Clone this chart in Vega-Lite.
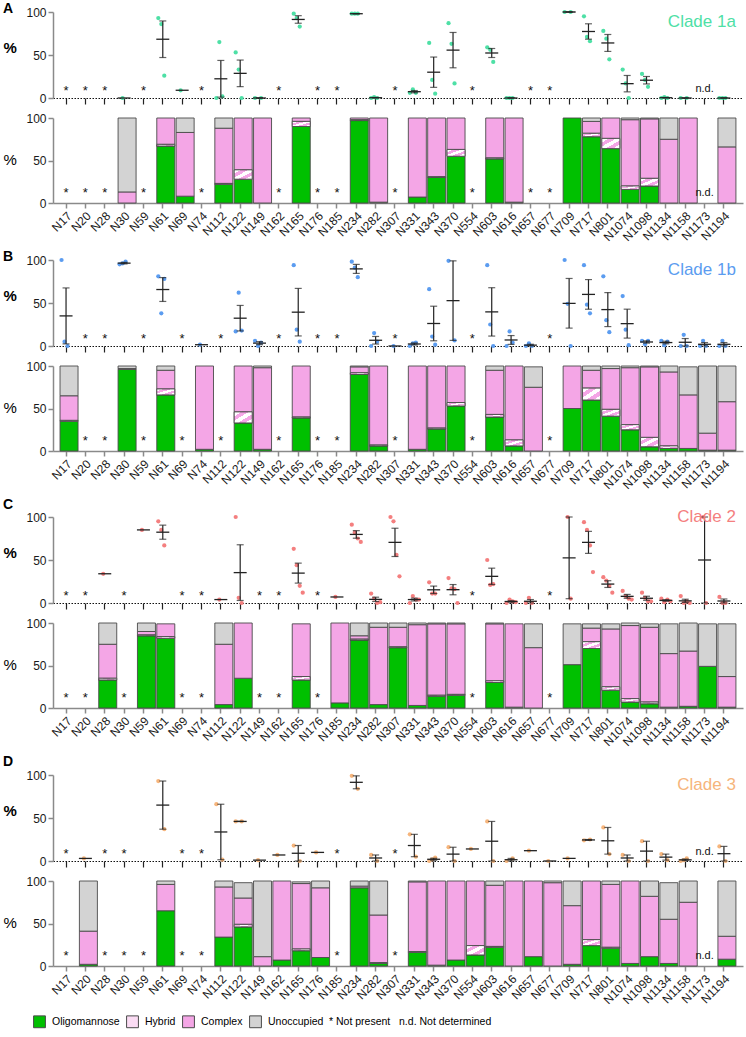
{
"$schema":"https://vega.github.io/schema/vega-lite/v6.json",
"padding":{"left":3,"top":2,"right":2,"bottom":2},
"config":{"view":{"stroke":null},"font":"Liberation Sans","axis":{"grid":false,"labelFontSize":12,"labelColor":"#1a1a1a","labelPadding":2,"domainColor":"#8a8a8a","domainWidth":1.5,"tickColor":"#8a8a8a","tickWidth":1.5,"tickSize":5,"titleColor":"#000"},"title":{"anchor":"start","frame":"group","orient":"top","dx":-50,"offset":0,"baseline":"alphabetic","fontSize":14,"fontWeight":"bold","color":"#000"}},
"datasets":{
"dots":[
{"c":"1a","s":"N30","v":0,"r":2},
{"c":"1a","s":"N61","v":93,"r":1},{"c":"1a","s":"N61","v":86,"r":2},{"c":"1a","s":"N61","v":26,"r":3},
{"c":"1a","s":"N69","v":9,"r":2},
{"c":"1a","s":"N112","v":0,"r":1},{"c":"1a","s":"N112","v":65,"r":2},{"c":"1a","s":"N112","v":2,"r":3},
{"c":"1a","s":"N122","v":53,"r":1},{"c":"1a","s":"N122","v":33,"r":2},{"c":"1a","s":"N122","v":0,"r":3},
{"c":"1a","s":"N149","v":0,"r":1},{"c":"1a","s":"N149","v":0,"r":3},
{"c":"1a","s":"N165","v":98,"r":1},{"c":"1a","s":"N165","v":93,"r":2},{"c":"1a","s":"N165","v":83,"r":3},
{"c":"1a","s":"N234","v":98,"r":1},{"c":"1a","s":"N234","v":98,"r":2},{"c":"1a","s":"N234","v":98,"r":3},
{"c":"1a","s":"N282","v":0,"r":1},{"c":"1a","s":"N282","v":1,"r":2},{"c":"1a","s":"N282","v":0,"r":3},
{"c":"1a","s":"N331","v":6,"r":1},{"c":"1a","s":"N331","v":10,"r":2},{"c":"1a","s":"N331","v":6,"r":3},
{"c":"1a","s":"N343","v":64,"r":1},{"c":"1a","s":"N343","v":21,"r":2},{"c":"1a","s":"N343","v":5,"r":3},
{"c":"1a","s":"N370","v":87,"r":1},{"c":"1a","s":"N370","v":63,"r":2},{"c":"1a","s":"N370","v":17,"r":3},
{"c":"1a","s":"N603","v":59,"r":1},{"c":"1a","s":"N603","v":56,"r":2},{"c":"1a","s":"N603","v":42,"r":3},
{"c":"1a","s":"N616","v":0,"r":1},{"c":"1a","s":"N616","v":0,"r":2},{"c":"1a","s":"N616","v":0,"r":3},
{"c":"1a","s":"N709","v":100,"r":1},{"c":"1a","s":"N709","v":100,"r":3},
{"c":"1a","s":"N717","v":95,"r":1},{"c":"1a","s":"N717","v":71,"r":2},{"c":"1a","s":"N717","v":66,"r":3},
{"c":"1a","s":"N801","v":78,"r":1},{"c":"1a","s":"N801","v":69,"r":2},{"c":"1a","s":"N801","v":45,"r":3},
{"c":"1a","s":"N1074","v":33,"r":1},{"c":"1a","s":"N1074","v":17,"r":2},{"c":"1a","s":"N1074","v":0,"r":3},
{"c":"1a","s":"N1098","v":28,"r":1},{"c":"1a","s":"N1098","v":21,"r":2},{"c":"1a","s":"N1098","v":13,"r":3},
{"c":"1a","s":"N1134","v":0,"r":1},{"c":"1a","s":"N1134","v":1,"r":2},{"c":"1a","s":"N1134","v":0,"r":3},
{"c":"1a","s":"N1158","v":0,"r":1},{"c":"1a","s":"N1158","v":0,"r":3},
{"c":"1a","s":"N1194","v":0,"r":1},{"c":"1a","s":"N1194","v":0,"r":2},{"c":"1a","s":"N1194","v":0,"r":3},
{"c":"1b","s":"N17","v":100,"r":1},{"c":"1b","s":"N17","v":5,"r":2},{"c":"1b","s":"N17","v":0,"r":3},
{"c":"1b","s":"N30","v":95,"r":1},{"c":"1b","s":"N30","v":96,"r":2},{"c":"1b","s":"N30","v":98,"r":3},
{"c":"1b","s":"N61","v":81,"r":1},{"c":"1b","s":"N61","v":38,"r":2},{"c":"1b","s":"N61","v":78,"r":3},
{"c":"1b","s":"N74","v":1.5,"r":2},
{"c":"1b","s":"N122","v":17,"r":1},{"c":"1b","s":"N122","v":62,"r":2},{"c":"1b","s":"N122","v":18,"r":3},
{"c":"1b","s":"N149","v":6,"r":1},{"c":"1b","s":"N149","v":0,"r":2},{"c":"1b","s":"N149","v":4,"r":3},
{"c":"1b","s":"N165","v":94,"r":1},{"c":"1b","s":"N165","v":19,"r":2},{"c":"1b","s":"N165","v":5,"r":3},
{"c":"1b","s":"N234","v":98,"r":1},{"c":"1b","s":"N234","v":91,"r":2},{"c":"1b","s":"N234","v":80,"r":3},
{"c":"1b","s":"N282","v":0,"r":1},{"c":"1b","s":"N282","v":15,"r":2},{"c":"1b","s":"N282","v":5,"r":3},
{"c":"1b","s":"N307","v":0,"r":2},
{"c":"1b","s":"N331","v":0,"r":1},{"c":"1b","s":"N331","v":3,"r":2},{"c":"1b","s":"N331","v":4,"r":3},
{"c":"1b","s":"N343","v":66,"r":1},{"c":"1b","s":"N343","v":11,"r":2},{"c":"1b","s":"N343","v":1.5,"r":3},
{"c":"1b","s":"N370","v":99,"r":1},{"c":"1b","s":"N370","v":6.5,"r":3},
{"c":"1b","s":"N603","v":94,"r":1},{"c":"1b","s":"N603","v":25,"r":2},{"c":"1b","s":"N603","v":0,"r":3},
{"c":"1b","s":"N616","v":0,"r":1},{"c":"1b","s":"N616","v":17,"r":2},{"c":"1b","s":"N616","v":4,"r":3},
{"c":"1b","s":"N657","v":0,"r":1},{"c":"1b","s":"N657","v":3,"r":2},{"c":"1b","s":"N657","v":0,"r":3},
{"c":"1b","s":"N709","v":100,"r":1},{"c":"1b","s":"N709","v":49,"r":2},{"c":"1b","s":"N709","v":0,"r":3},
{"c":"1b","s":"N717","v":94,"r":1},{"c":"1b","s":"N717","v":48,"r":2},{"c":"1b","s":"N717","v":38,"r":3},
{"c":"1b","s":"N801","v":81,"r":1},{"c":"1b","s":"N801","v":30,"r":2},{"c":"1b","s":"N801","v":16,"r":3},
{"c":"1b","s":"N1074","v":58,"r":1},{"c":"1b","s":"N1074","v":19,"r":2},{"c":"1b","s":"N1074","v":1,"r":3},
{"c":"1b","s":"N1098","v":6,"r":1},{"c":"1b","s":"N1098","v":2,"r":2},{"c":"1b","s":"N1098","v":6,"r":3},
{"c":"1b","s":"N1134","v":6,"r":1},{"c":"1b","s":"N1134","v":1,"r":2},{"c":"1b","s":"N1134","v":5,"r":3},
{"c":"1b","s":"N1158","v":0,"r":1},{"c":"1b","s":"N1158","v":13,"r":2},{"c":"1b","s":"N1158","v":0,"r":3},
{"c":"1b","s":"N1173","v":0,"r":1},{"c":"1b","s":"N1173","v":6,"r":2},{"c":"1b","s":"N1173","v":0,"r":3},
{"c":"1b","s":"N1194","v":0,"r":1},{"c":"1b","s":"N1194","v":6,"r":2},{"c":"1b","s":"N1194","v":0,"r":3},
{"c":"2","s":"N28","v":34,"r":2},
{"c":"2","s":"N59","v":85,"r":2},
{"c":"2","s":"N61","v":95,"r":1},{"c":"2","s":"N61","v":85,"r":2},{"c":"2","s":"N61","v":67,"r":3},
{"c":"2","s":"N112","v":4,"r":2},
{"c":"2","s":"N122","v":100,"r":1},{"c":"2","s":"N122","v":6,"r":2},{"c":"2","s":"N122","v":0,"r":3},
{"c":"2","s":"N165","v":63,"r":1},{"c":"2","s":"N165","v":44,"r":2},{"c":"2","s":"N165","v":20,"r":3},{"c":"2","s":"N165","v":12,"r":4},
{"c":"2","s":"N185","v":7,"r":2},
{"c":"2","s":"N234","v":91,"r":1},{"c":"2","s":"N234","v":82,"r":2},{"c":"2","s":"N234","v":75,"r":3},{"c":"2","s":"N234","v":71,"r":4},
{"c":"2","s":"N282","v":11,"r":1},{"c":"2","s":"N282","v":5,"r":2},{"c":"2","s":"N282","v":0,"r":3},{"c":"2","s":"N282","v":1,"r":4},
{"c":"2","s":"N307","v":100,"r":1},{"c":"2","s":"N307","v":95,"r":2},{"c":"2","s":"N307","v":56,"r":3},{"c":"2","s":"N307","v":31,"r":4},
{"c":"2","s":"N331","v":0,"r":1},{"c":"2","s":"N331","v":8,"r":2},{"c":"2","s":"N331","v":4,"r":3},{"c":"2","s":"N331","v":4,"r":4},
{"c":"2","s":"N343","v":24,"r":1},{"c":"2","s":"N343","v":11,"r":2},{"c":"2","s":"N343","v":11,"r":3},
{"c":"2","s":"N370","v":29,"r":1},{"c":"2","s":"N370","v":17,"r":2},{"c":"2","s":"N370","v":16,"r":3},{"c":"2","s":"N370","v":0,"r":4},
{"c":"2","s":"N603","v":50,"r":1},{"c":"2","s":"N603","v":21,"r":2},{"c":"2","s":"N603","v":22,"r":3},
{"c":"2","s":"N616","v":0,"r":1},{"c":"2","s":"N616","v":4,"r":2},{"c":"2","s":"N616","v":2,"r":3},{"c":"2","s":"N616","v":1,"r":4},
{"c":"2","s":"N657","v":0,"r":1},{"c":"2","s":"N657","v":6,"r":2},{"c":"2","s":"N657","v":0,"r":3},
{"c":"2","s":"N709","v":100,"r":2},{"c":"2","s":"N709","v":5,"r":3},
{"c":"2","s":"N717","v":94,"r":1},{"c":"2","s":"N717","v":85,"r":2},{"c":"2","s":"N717","v":67,"r":3},{"c":"2","s":"N717","v":36,"r":4},
{"c":"2","s":"N801","v":30,"r":1},{"c":"2","s":"N801","v":26,"r":2},{"c":"2","s":"N801","v":20,"r":3},{"c":"2","s":"N801","v":12,"r":4},
{"c":"2","s":"N1074","v":14,"r":1},{"c":"2","s":"N1074","v":8,"r":2},{"c":"2","s":"N1074","v":5,"r":3},{"c":"2","s":"N1074","v":4,"r":4},
{"c":"2","s":"N1098","v":12,"r":1},{"c":"2","s":"N1098","v":6,"r":2},{"c":"2","s":"N1098","v":2,"r":3},{"c":"2","s":"N1098","v":2,"r":4},
{"c":"2","s":"N1134","v":5,"r":1},{"c":"2","s":"N1134","v":1,"r":2},{"c":"2","s":"N1134","v":4,"r":3},{"c":"2","s":"N1134","v":2,"r":4},
{"c":"2","s":"N1158","v":8,"r":1},{"c":"2","s":"N1158","v":0,"r":2},{"c":"2","s":"N1158","v":2,"r":3},{"c":"2","s":"N1158","v":0,"r":4},
{"c":"2","s":"N1173","v":100,"r":2},{"c":"2","s":"N1173","v":0,"r":3},
{"c":"2","s":"N1194","v":7,"r":1},{"c":"2","s":"N1194","v":0,"r":2},{"c":"2","s":"N1194","v":0,"r":3},
{"c":"3","s":"N20","v":3,"r":2},
{"c":"3","s":"N61","v":93,"r":1},{"c":"3","s":"N61","v":37,"r":3},
{"c":"3","s":"N112","v":66,"r":1},{"c":"3","s":"N112","v":1.5,"r":3},
{"c":"3","s":"N122","v":46,"r":1},{"c":"3","s":"N122","v":46,"r":3},
{"c":"3","s":"N149","v":1,"r":2},
{"c":"3","s":"N162","v":7,"r":2},
{"c":"3","s":"N165","v":18,"r":1},{"c":"3","s":"N165","v":0,"r":3},
{"c":"3","s":"N176","v":10,"r":2},
{"c":"3","s":"N234","v":99,"r":1},{"c":"3","s":"N234","v":84,"r":3},
{"c":"3","s":"N282","v":7,"r":1},{"c":"3","s":"N282","v":0,"r":3},
{"c":"3","s":"N331","v":31,"r":1},{"c":"3","s":"N331","v":5,"r":3},
{"c":"3","s":"N343","v":0,"r":1},{"c":"3","s":"N343","v":2,"r":2},{"c":"3","s":"N343","v":4,"r":3},
{"c":"3","s":"N370","v":16,"r":1},{"c":"3","s":"N370","v":0,"r":3},
{"c":"3","s":"N554","v":14,"r":2},
{"c":"3","s":"N603","v":46,"r":1},{"c":"3","s":"N603","v":0,"r":3},
{"c":"3","s":"N616","v":0,"r":1},{"c":"3","s":"N616","v":3,"r":3},
{"c":"3","s":"N657","v":12,"r":2},
{"c":"3","s":"N677","v":0,"r":2},
{"c":"3","s":"N709","v":3,"r":2},
{"c":"3","s":"N717","v":24,"r":1},{"c":"3","s":"N717","v":25,"r":3},
{"c":"3","s":"N801","v":39,"r":1},{"c":"3","s":"N801","v":8,"r":3},
{"c":"3","s":"N1074","v":7,"r":1},{"c":"3","s":"N1074","v":0,"r":3},
{"c":"3","s":"N1098","v":23,"r":1},{"c":"3","s":"N1098","v":0,"r":3},
{"c":"3","s":"N1134","v":8,"r":1},{"c":"3","s":"N1134","v":1,"r":3},
{"c":"3","s":"N1158","v":0,"r":1},{"c":"3","s":"N1158","v":1,"r":2},{"c":"3","s":"N1158","v":3,"r":3},
{"c":"3","s":"N1194","v":17,"r":1},{"c":"3","s":"N1194","v":0,"r":3}
],
"bars":[
{"c":"1a","s":"N30","Oligomannose":0,"Hybrid":0,"Complex":13,"Unoccupied":87},
{"c":"1a","s":"N61","Oligomannose":67,"Hybrid":2,"Complex":31,"Unoccupied":0},
{"c":"1a","s":"N69","Oligomannose":8,"Hybrid":0,"Complex":75,"Unoccupied":17},
{"c":"1a","s":"N112","Oligomannose":22,"Hybrid":1,"Complex":65,"Unoccupied":12},
{"c":"1a","s":"N122","Oligomannose":28,"Hybrid":11,"Complex":61,"Unoccupied":0},
{"c":"1a","s":"N149","Oligomannose":0,"Hybrid":0,"Complex":100,"Unoccupied":0},
{"c":"1a","s":"N165","Oligomannose":90,"Hybrid":6,"Complex":4,"Unoccupied":0},
{"c":"1a","s":"N234","Oligomannose":97,"Hybrid":1,"Complex":2,"Unoccupied":0},
{"c":"1a","s":"N282","Oligomannose":1,"Hybrid":0,"Complex":99,"Unoccupied":0},
{"c":"1a","s":"N331","Oligomannose":7,"Hybrid":0,"Complex":93,"Unoccupied":0},
{"c":"1a","s":"N343","Oligomannose":30,"Hybrid":1,"Complex":69,"Unoccupied":0},
{"c":"1a","s":"N370","Oligomannose":55,"Hybrid":8,"Complex":37,"Unoccupied":0},
{"c":"1a","s":"N603","Oligomannose":52,"Hybrid":1,"Complex":47,"Unoccupied":0},
{"c":"1a","s":"N616","Oligomannose":1,"Hybrid":0,"Complex":99,"Unoccupied":0},
{"c":"1a","s":"N709","Oligomannose":100,"Hybrid":0,"Complex":0,"Unoccupied":0},
{"c":"1a","s":"N717","Oligomannose":78,"Hybrid":4,"Complex":14,"Unoccupied":4},
{"c":"1a","s":"N801","Oligomannose":64,"Hybrid":12,"Complex":24,"Unoccupied":0},
{"c":"1a","s":"N1074","Oligomannose":16,"Hybrid":4,"Complex":78,"Unoccupied":2},
{"c":"1a","s":"N1098","Oligomannose":20,"Hybrid":9,"Complex":70,"Unoccupied":1},
{"c":"1a","s":"N1134","Oligomannose":0,"Hybrid":0,"Complex":75,"Unoccupied":25},
{"c":"1a","s":"N1158","Oligomannose":0,"Hybrid":0,"Complex":100,"Unoccupied":0},
{"c":"1a","s":"N1194","Oligomannose":0,"Hybrid":0,"Complex":66,"Unoccupied":34},
{"c":"1b","s":"N17","Oligomannose":35,"Hybrid":1,"Complex":29,"Unoccupied":35},
{"c":"1b","s":"N30","Oligomannose":96,"Hybrid":0,"Complex":1,"Unoccupied":3},
{"c":"1b","s":"N61","Oligomannose":66,"Hybrid":7,"Complex":22,"Unoccupied":5},
{"c":"1b","s":"N74","Oligomannose":2,"Hybrid":0,"Complex":98,"Unoccupied":0},
{"c":"1b","s":"N122","Oligomannose":33,"Hybrid":13,"Complex":54,"Unoccupied":0},
{"c":"1b","s":"N149","Oligomannose":2,"Hybrid":0,"Complex":96,"Unoccupied":2},
{"c":"1b","s":"N165","Oligomannose":39,"Hybrid":1,"Complex":60,"Unoccupied":0},
{"c":"1b","s":"N234","Oligomannose":90,"Hybrid":2,"Complex":7,"Unoccupied":1},
{"c":"1b","s":"N282","Oligomannose":6,"Hybrid":1,"Complex":93,"Unoccupied":0},
{"c":"1b","s":"N331","Oligomannose":2,"Hybrid":0,"Complex":98,"Unoccupied":0},
{"c":"1b","s":"N343","Oligomannose":26,"Hybrid":1,"Complex":73,"Unoccupied":0},
{"c":"1b","s":"N370","Oligomannose":53,"Hybrid":4,"Complex":43,"Unoccupied":0},
{"c":"1b","s":"N603","Oligomannose":40,"Hybrid":3,"Complex":52,"Unoccupied":5},
{"c":"1b","s":"N616","Oligomannose":6,"Hybrid":7,"Complex":87,"Unoccupied":0},
{"c":"1b","s":"N657","Oligomannose":0,"Hybrid":0,"Complex":75,"Unoccupied":24},
{"c":"1b","s":"N709","Oligomannose":50,"Hybrid":0,"Complex":50,"Unoccupied":0},
{"c":"1b","s":"N717","Oligomannose":60,"Hybrid":14,"Complex":21,"Unoccupied":5},
{"c":"1b","s":"N801","Oligomannose":41,"Hybrid":8,"Complex":48,"Unoccupied":3},
{"c":"1b","s":"N1074","Oligomannose":25,"Hybrid":6,"Complex":67,"Unoccupied":2},
{"c":"1b","s":"N1098","Oligomannose":5,"Hybrid":11,"Complex":83,"Unoccupied":1},
{"c":"1b","s":"N1134","Oligomannose":3,"Hybrid":3,"Complex":87,"Unoccupied":7},
{"c":"1b","s":"N1158","Oligomannose":3,"Hybrid":0,"Complex":63,"Unoccupied":33},
{"c":"1b","s":"N1173","Oligomannose":1,"Hybrid":0,"Complex":20,"Unoccupied":79},
{"c":"1b","s":"N1194","Oligomannose":1,"Hybrid":0,"Complex":57,"Unoccupied":42},
{"c":"2","s":"N28","Oligomannose":33,"Hybrid":2,"Complex":40,"Unoccupied":25},
{"c":"2","s":"N59","Oligomannose":85,"Hybrid":1,"Complex":4,"Unoccupied":10},
{"c":"2","s":"N61","Oligomannose":82,"Hybrid":2,"Complex":15,"Unoccupied":0},
{"c":"2","s":"N112","Oligomannose":4,"Hybrid":0,"Complex":71,"Unoccupied":25},
{"c":"2","s":"N122","Oligomannose":35,"Hybrid":0,"Complex":65,"Unoccupied":0},
{"c":"2","s":"N165","Oligomannose":33,"Hybrid":4,"Complex":62,"Unoccupied":0},
{"c":"2","s":"N185","Oligomannose":6,"Hybrid":0,"Complex":94,"Unoccupied":0},
{"c":"2","s":"N234","Oligomannose":80,"Hybrid":1,"Complex":4,"Unoccupied":15},
{"c":"2","s":"N282","Oligomannose":4,"Hybrid":0,"Complex":91,"Unoccupied":5},
{"c":"2","s":"N307","Oligomannose":71,"Hybrid":1,"Complex":23,"Unoccupied":5},
{"c":"2","s":"N331","Oligomannose":3,"Hybrid":0,"Complex":95,"Unoccupied":2},
{"c":"2","s":"N343","Oligomannose":14,"Hybrid":1,"Complex":84,"Unoccupied":1},
{"c":"2","s":"N370","Oligomannose":15,"Hybrid":1,"Complex":83,"Unoccupied":1},
{"c":"2","s":"N603","Oligomannose":30,"Hybrid":2,"Complex":67,"Unoccupied":1},
{"c":"2","s":"N616","Oligomannose":1,"Hybrid":0,"Complex":98,"Unoccupied":0},
{"c":"2","s":"N657","Oligomannose":0,"Hybrid":0,"Complex":71,"Unoccupied":28},
{"c":"2","s":"N709","Oligomannose":51,"Hybrid":0,"Complex":0,"Unoccupied":48},
{"c":"2","s":"N717","Oligomannose":70,"Hybrid":8,"Complex":16,"Unoccupied":5},
{"c":"2","s":"N801","Oligomannose":21,"Hybrid":4,"Complex":68,"Unoccupied":6},
{"c":"2","s":"N1074","Oligomannose":7,"Hybrid":4,"Complex":86,"Unoccupied":3},
{"c":"2","s":"N1098","Oligomannose":5,"Hybrid":2,"Complex":88,"Unoccupied":4},
{"c":"2","s":"N1134","Oligomannose":1,"Hybrid":0,"Complex":63,"Unoccupied":35},
{"c":"2","s":"N1158","Oligomannose":2,"Hybrid":0,"Complex":65,"Unoccupied":33},
{"c":"2","s":"N1173","Oligomannose":49,"Hybrid":0,"Complex":0,"Unoccupied":50},
{"c":"2","s":"N1194","Oligomannose":1,"Hybrid":0,"Complex":36,"Unoccupied":62},
{"c":"3","s":"N20","Oligomannose":2,"Hybrid":0,"Complex":39,"Unoccupied":59},
{"c":"3","s":"N61","Oligomannose":65,"Hybrid":0,"Complex":31,"Unoccupied":4},
{"c":"3","s":"N112","Oligomannose":34,"Hybrid":0,"Complex":59,"Unoccupied":7},
{"c":"3","s":"N122","Oligomannose":46,"Hybrid":3,"Complex":31,"Unoccupied":18},
{"c":"3","s":"N149","Oligomannose":0,"Hybrid":0,"Complex":11,"Unoccupied":89},
{"c":"3","s":"N162","Oligomannose":7,"Hybrid":0,"Complex":93,"Unoccupied":0},
{"c":"3","s":"N165","Oligomannose":18,"Hybrid":2,"Complex":77,"Unoccupied":2},
{"c":"3","s":"N176","Oligomannose":10,"Hybrid":0,"Complex":82,"Unoccupied":8},
{"c":"3","s":"N234","Oligomannose":92,"Hybrid":0,"Complex":2,"Unoccupied":6},
{"c":"3","s":"N282","Oligomannose":3,"Hybrid":1,"Complex":56,"Unoccupied":40},
{"c":"3","s":"N331","Oligomannose":16,"Hybrid":1,"Complex":82,"Unoccupied":1},
{"c":"3","s":"N343","Oligomannose":1,"Hybrid":0,"Complex":99,"Unoccupied":0},
{"c":"3","s":"N370","Oligomannose":7,"Hybrid":0,"Complex":93,"Unoccupied":0},
{"c":"3","s":"N554","Oligomannose":13,"Hybrid":11,"Complex":76,"Unoccupied":0},
{"c":"3","s":"N603","Oligomannose":22,"Hybrid":1,"Complex":72,"Unoccupied":5},
{"c":"3","s":"N616","Oligomannose":0,"Hybrid":0,"Complex":100,"Unoccupied":0},
{"c":"3","s":"N657","Oligomannose":11,"Hybrid":0,"Complex":89,"Unoccupied":0},
{"c":"3","s":"N677","Oligomannose":0,"Hybrid":0,"Complex":98,"Unoccupied":2},
{"c":"3","s":"N709","Oligomannose":2,"Hybrid":0,"Complex":69,"Unoccupied":29},
{"c":"3","s":"N717","Oligomannose":24,"Hybrid":7,"Complex":69,"Unoccupied":0},
{"c":"3","s":"N801","Oligomannose":21,"Hybrid":1,"Complex":74,"Unoccupied":4},
{"c":"3","s":"N1074","Oligomannose":3,"Hybrid":0,"Complex":97,"Unoccupied":0},
{"c":"3","s":"N1098","Oligomannose":11,"Hybrid":0,"Complex":71,"Unoccupied":18},
{"c":"3","s":"N1134","Oligomannose":3,"Hybrid":0,"Complex":52,"Unoccupied":43},
{"c":"3","s":"N1158","Oligomannose":0,"Hybrid":0,"Complex":75,"Unoccupied":25},
{"c":"3","s":"N1194","Oligomannose":8,"Hybrid":0,"Complex":27,"Unoccupied":65}
],
"notes":[
{"c":"1a","s":"N17","t":"*","p":"both"},{"c":"1a","s":"N20","t":"*","p":"both"},{"c":"1a","s":"N28","t":"*","p":"both"},{"c":"1a","s":"N59","t":"*","p":"both"},{"c":"1a","s":"N74","t":"*","p":"both"},{"c":"1a","s":"N162","t":"*","p":"both"},{"c":"1a","s":"N176","t":"*","p":"both"},{"c":"1a","s":"N185","t":"*","p":"both"},{"c":"1a","s":"N307","t":"*","p":"both"},{"c":"1a","s":"N554","t":"*","p":"both"},{"c":"1a","s":"N657","t":"*","p":"both"},{"c":"1a","s":"N677","t":"*","p":"both"},{"c":"1a","s":"N1173","t":"n.d.","p":"both"},
{"c":"1b","s":"N20","t":"*","p":"both"},{"c":"1b","s":"N28","t":"*","p":"both"},{"c":"1b","s":"N59","t":"*","p":"both"},{"c":"1b","s":"N69","t":"*","p":"both"},{"c":"1b","s":"N112","t":"*","p":"both"},{"c":"1b","s":"N162","t":"*","p":"both"},{"c":"1b","s":"N176","t":"*","p":"both"},{"c":"1b","s":"N185","t":"*","p":"both"},{"c":"1b","s":"N307","t":"*","p":"both"},{"c":"1b","s":"N554","t":"*","p":"both"},{"c":"1b","s":"N677","t":"*","p":"both"},
{"c":"2","s":"N17","t":"*","p":"both"},{"c":"2","s":"N20","t":"*","p":"both"},{"c":"2","s":"N30","t":"*","p":"both"},{"c":"2","s":"N69","t":"*","p":"both"},{"c":"2","s":"N74","t":"*","p":"both"},{"c":"2","s":"N149","t":"*","p":"both"},{"c":"2","s":"N162","t":"*","p":"both"},{"c":"2","s":"N176","t":"*","p":"both"},{"c":"2","s":"N554","t":"*","p":"both"},{"c":"2","s":"N677","t":"*","p":"both"},
{"c":"3","s":"N17","t":"*","p":"both"},{"c":"3","s":"N28","t":"*","p":"both"},{"c":"3","s":"N30","t":"*","p":"both"},{"c":"3","s":"N59","t":"*","p":"bar"},{"c":"3","s":"N69","t":"*","p":"both"},{"c":"3","s":"N74","t":"*","p":"both"},{"c":"3","s":"N185","t":"*","p":"both"},{"c":"3","s":"N307","t":"*","p":"both"},{"c":"3","s":"N1173","t":"n.d.","p":"both"}
]
},
"spacing":7,
"vconcat":[
{"width":690,"height":86,
"title":{"text":"A","dy":14},
"encoding":{"x":{"field":"s","type":"nominal","title":null,"scale":{"domain":["N17","N20","N28","N30","N59","N61","N69","N74","N112","N122","N149","N162","N165","N176","N185","N234","N282","N307","N331","N343","N370","N554","N603","N616","N657","N677","N709","N717","N801","N1074","N1098","N1134","N1158","N1173","N1194"],"paddingInner":0.38,"paddingOuter":0.52,"align":0.35},"axis":{"labels":false,"domainDash":[1.5,1.5],"domainColor":"#111","domainWidth":1.2,"tickColor":"#222","tickWidth":1.2,"tickSize":6}}},
"layer":[
{"data":{"name":"dots"},"transform":[{"filter":"datum.c=='1a'"}],"mark":{"type":"point","filled":true,"size":18,"opacity":1,"color":"#4ee0a6"},"encoding":{"y":{"field":"v","type":"quantitative","title":"%","scale":{"domain":[0,100],"nice":false},"axis":{"values":[0,50,100],"titleAngle":0,"titleX":-50,"titleY":35,"titleAlign":"left","titleBaseline":"middle","titleFontSize":15,"titleFontWeight":"bold"}},"xOffset":{"field":"r","type":"nominal","scale":{"domain":[1,2,3]}}}},
{"data":{"name":"dots"},"transform":[{"filter":"datum.c=='1a'"},{"joinaggregate":[{"op":"count","as":"n"}],"groupby":["s"]},{"filter":"datum.n>1"}],"mark":{"type":"errorbar","extent":"stderr","color":"#222","thickness":1.2,"ticks":{"size":7,"thickness":1.2,"color":"#222"}},"encoding":{"y":{"field":"v","type":"quantitative","title":"%"}}},
{"data":{"name":"dots"},"transform":[{"filter":"datum.c=='1a'"}],"mark":{"type":"tick","size":13,"thickness":1.3,"color":"#222"},"encoding":{"y":{"aggregate":"mean","field":"v","type":"quantitative","title":"%"}}},
{"data":{"name":"notes"},"transform":[{"filter":"datum.c=='1a' && datum.p=='both' && datum.t=='*'"}],"mark":{"type":"text","fontSize":13,"baseline":"middle","color":"#111"},"encoding":{"text":{"field":"t"},"y":{"datum":8,"title":"%"}}},
{"data":{"name":"notes"},"transform":[{"filter":"datum.c=='1a' && datum.t=='n.d.'"}],"mark":{"type":"text","fontSize":11,"baseline":"middle","color":"#111"},"encoding":{"text":{"field":"t"},"y":{"datum":11,"title":"%"}}},
{"data":{"values":[{}]},"mark":{"type":"text","text":"Clade 1a","fontSize":17,"align":"right","baseline":"middle","color":"#4ee0a6","dx":6},"encoding":{"x":{"datum":"N1194","bandPosition":1},"y":{"datum":88,"title":"%"}}}
]},
{"width":690,"height":85,
"encoding":{"x":{"field":"s","type":"nominal","title":null,"scale":{"domain":["N17","N20","N28","N30","N59","N61","N69","N74","N112","N122","N149","N162","N165","N176","N185","N234","N282","N307","N331","N343","N370","N554","N603","N616","N657","N677","N709","N717","N801","N1074","N1098","N1134","N1158","N1173","N1194"],"paddingInner":0.38,"paddingOuter":0.52,"align":0.35},"axis":{"labelAngle":-45}}},
"layer":[
{"data":{"name":"bars"},"transform":[{"filter":"datum.c=='1a'"},{"fold":["Oligomannose","Hybrid","Complex","Unoccupied"],"as":["g","p"]},{"filter":"datum.p>0"},{"stack":"p","groupby":["s"],"as":["y0","y1"]}],"mark":{"type":"bar","stroke":"#4a4a4a","strokeWidth":0.9},"encoding":{"y":{"field":"y0","type":"quantitative","scale":{"domain":[0,100],"nice":false},"axis":{"values":[0,50,100],"title":"%","titleAngle":0,"titleX":-50,"titleY":41,"titleAlign":"left","titleBaseline":"middle","titleFontSize":15,"titleFontWeight":"normal"}},"y2":{"field":"y1"},"fill":{"field":"g","type":"nominal","scale":{"domain":["Oligomannose","Hybrid","Complex","Unoccupied"],"range":["#00c000","#fbdcf4","#f4a6e6","#d3d3d3"]},"legend":{"orient":"none","legendX":-20,"legendY":1003,"direction":"horizontal","title":"* Not present\u00a0\u00a0\u00a0n.d.\u00a0Not determined","titleOrient":"right","titleFontWeight":"normal","titleFontSize":10.5,"titlePadding":6,"titleLimit":400,"titleColor":"#000","symbolType":"square","symbolSize":140,"symbolStrokeColor":"#333","symbolStrokeWidth":1,"labelFontSize":10.5,"labelColor":"#000","labelOffset":6,"columnPadding":4}}}},
{"data":{"name":"bars"},"transform":[{"filter":"datum.c=='1a'"},{"fold":["Oligomannose","Hybrid","Complex","Unoccupied"],"as":["g","p"]},{"filter":"datum.p>0"},{"stack":"p","groupby":["s"],"as":["y0","y1"]},{"filter":"datum.g=='Hybrid'"}],"mark":{"type":"bar","stroke":"#4a4a4a","strokeWidth":0.9,"fill":{"gradient":"linear","x1":0,"y1":0,"x2":1,"y2":1,"stops":[{"offset":0,"color":"#ffffff"},{"offset":0.2,"color":"#ffffff"},{"offset":0.2,"color":"#f4a6e6"},{"offset":0.4,"color":"#f4a6e6"},{"offset":0.4,"color":"#ffffff"},{"offset":0.6,"color":"#ffffff"},{"offset":0.6,"color":"#f4a6e6"},{"offset":0.8,"color":"#f4a6e6"},{"offset":0.8,"color":"#ffffff"},{"offset":1,"color":"#ffffff"}]}},"encoding":{"y":{"field":"y0","type":"quantitative"},"y2":{"field":"y1"}}},
{"data":{"name":"notes"},"transform":[{"filter":"datum.c=='1a' && datum.t=='*'"}],"mark":{"type":"text","fontSize":13,"baseline":"middle","color":"#111"},"encoding":{"text":{"field":"t"},"y":{"datum":12}}},
{"data":{"name":"notes"},"transform":[{"filter":"datum.c=='1a' && datum.t=='n.d.'"}],"mark":{"type":"text","fontSize":11,"baseline":"middle","color":"#111"},"encoding":{"text":{"field":"t"},"y":{"datum":12}}}
]},
{"width":690,"height":86,
"title":{"text":"B","dy":14},
"encoding":{"x":{"field":"s","type":"nominal","title":null,"scale":{"domain":["N17","N20","N28","N30","N59","N61","N69","N74","N112","N122","N149","N162","N165","N176","N185","N234","N282","N307","N331","N343","N370","N554","N603","N616","N657","N677","N709","N717","N801","N1074","N1098","N1134","N1158","N1173","N1194"],"paddingInner":0.38,"paddingOuter":0.52,"align":0.35},"axis":{"labels":false,"domainDash":[1.5,1.5],"domainColor":"#111","domainWidth":1.2,"tickColor":"#222","tickWidth":1.2,"tickSize":6}}},
"layer":[
{"data":{"name":"dots"},"transform":[{"filter":"datum.c=='1b'"}],"mark":{"type":"point","filled":true,"size":18,"opacity":1,"color":"#5b9cf0"},"encoding":{"y":{"field":"v","type":"quantitative","title":"%","scale":{"domain":[0,100],"nice":false},"axis":{"values":[0,50,100],"titleAngle":0,"titleX":-50,"titleY":35,"titleAlign":"left","titleBaseline":"middle","titleFontSize":15,"titleFontWeight":"bold"}},"xOffset":{"field":"r","type":"nominal","scale":{"domain":[1,2,3]}}}},
{"data":{"name":"dots"},"transform":[{"filter":"datum.c=='1b'"},{"joinaggregate":[{"op":"count","as":"n"}],"groupby":["s"]},{"filter":"datum.n>1"}],"mark":{"type":"errorbar","extent":"stderr","color":"#222","thickness":1.2,"ticks":{"size":7,"thickness":1.2,"color":"#222"}},"encoding":{"y":{"field":"v","type":"quantitative","title":"%"}}},
{"data":{"name":"dots"},"transform":[{"filter":"datum.c=='1b'"}],"mark":{"type":"tick","size":13,"thickness":1.3,"color":"#222"},"encoding":{"y":{"aggregate":"mean","field":"v","type":"quantitative","title":"%"}}},
{"data":{"name":"notes"},"transform":[{"filter":"datum.c=='1b' && datum.p=='both' && datum.t=='*'"}],"mark":{"type":"text","fontSize":13,"baseline":"middle","color":"#111"},"encoding":{"text":{"field":"t"},"y":{"datum":8,"title":"%"}}},
{"data":{"values":[{}]},"mark":{"type":"text","text":"Clade 1b","fontSize":17,"align":"right","baseline":"middle","color":"#5b9cf0","dx":6},"encoding":{"x":{"datum":"N1194","bandPosition":1},"y":{"datum":88,"title":"%"}}}
]},
{"width":690,"height":85,
"encoding":{"x":{"field":"s","type":"nominal","title":null,"scale":{"domain":["N17","N20","N28","N30","N59","N61","N69","N74","N112","N122","N149","N162","N165","N176","N185","N234","N282","N307","N331","N343","N370","N554","N603","N616","N657","N677","N709","N717","N801","N1074","N1098","N1134","N1158","N1173","N1194"],"paddingInner":0.38,"paddingOuter":0.52,"align":0.35},"axis":{"labelAngle":-45}}},
"layer":[
{"data":{"name":"bars"},"transform":[{"filter":"datum.c=='1b'"},{"fold":["Oligomannose","Hybrid","Complex","Unoccupied"],"as":["g","p"]},{"filter":"datum.p>0"},{"stack":"p","groupby":["s"],"as":["y0","y1"]}],"mark":{"type":"bar","stroke":"#4a4a4a","strokeWidth":0.9},"encoding":{"y":{"field":"y0","type":"quantitative","scale":{"domain":[0,100],"nice":false},"axis":{"values":[0,50,100],"title":"%","titleAngle":0,"titleX":-50,"titleY":41,"titleAlign":"left","titleBaseline":"middle","titleFontSize":15,"titleFontWeight":"normal"}},"y2":{"field":"y1"},"fill":{"field":"g","type":"nominal"}}},
{"data":{"name":"bars"},"transform":[{"filter":"datum.c=='1b'"},{"fold":["Oligomannose","Hybrid","Complex","Unoccupied"],"as":["g","p"]},{"filter":"datum.p>0"},{"stack":"p","groupby":["s"],"as":["y0","y1"]},{"filter":"datum.g=='Hybrid'"}],"mark":{"type":"bar","stroke":"#4a4a4a","strokeWidth":0.9,"fill":{"gradient":"linear","x1":0,"y1":0,"x2":1,"y2":1,"stops":[{"offset":0,"color":"#ffffff"},{"offset":0.2,"color":"#ffffff"},{"offset":0.2,"color":"#f4a6e6"},{"offset":0.4,"color":"#f4a6e6"},{"offset":0.4,"color":"#ffffff"},{"offset":0.6,"color":"#ffffff"},{"offset":0.6,"color":"#f4a6e6"},{"offset":0.8,"color":"#f4a6e6"},{"offset":0.8,"color":"#ffffff"},{"offset":1,"color":"#ffffff"}]}},"encoding":{"y":{"field":"y0","type":"quantitative"},"y2":{"field":"y1"}}},
{"data":{"name":"notes"},"transform":[{"filter":"datum.c=='1b' && datum.t=='*'"}],"mark":{"type":"text","fontSize":13,"baseline":"middle","color":"#111"},"encoding":{"text":{"field":"t"},"y":{"datum":12}}}
]},
{"width":690,"height":86,
"title":{"text":"C","dy":8},
"encoding":{"x":{"field":"s","type":"nominal","title":null,"scale":{"domain":["N17","N20","N28","N30","N59","N61","N69","N74","N112","N122","N149","N162","N165","N176","N185","N234","N282","N307","N331","N343","N370","N554","N603","N616","N657","N677","N709","N717","N801","N1074","N1098","N1134","N1158","N1173","N1194"],"paddingInner":0.38,"paddingOuter":0.52,"align":0.35},"axis":{"labels":false,"domainDash":[1.5,1.5],"domainColor":"#111","domainWidth":1.2,"tickColor":"#222","tickWidth":1.2,"tickSize":6}}},
"layer":[
{"data":{"name":"dots"},"transform":[{"filter":"datum.c=='2'"}],"mark":{"type":"point","filled":true,"size":18,"opacity":1,"color":"#f47f7f"},"encoding":{"y":{"field":"v","type":"quantitative","title":"%","scale":{"domain":[0,100],"nice":false},"axis":{"values":[0,50,100],"titleAngle":0,"titleX":-50,"titleY":35,"titleAlign":"left","titleBaseline":"middle","titleFontSize":15,"titleFontWeight":"bold"}},"xOffset":{"field":"r","type":"nominal","scale":{"domain":[1,2,3,4]}}}},
{"data":{"name":"dots"},"transform":[{"filter":"datum.c=='2'"},{"joinaggregate":[{"op":"count","as":"n"}],"groupby":["s"]},{"filter":"datum.n>1"}],"mark":{"type":"errorbar","extent":"stderr","color":"#222","thickness":1.2,"ticks":{"size":7,"thickness":1.2,"color":"#222"}},"encoding":{"y":{"field":"v","type":"quantitative","title":"%"}}},
{"data":{"name":"dots"},"transform":[{"filter":"datum.c=='2'"}],"mark":{"type":"tick","size":13,"thickness":1.3,"color":"#222"},"encoding":{"y":{"aggregate":"mean","field":"v","type":"quantitative","title":"%"}}},
{"data":{"name":"notes"},"transform":[{"filter":"datum.c=='2' && datum.p=='both' && datum.t=='*'"}],"mark":{"type":"text","fontSize":13,"baseline":"middle","color":"#111"},"encoding":{"text":{"field":"t"},"y":{"datum":8,"title":"%"}}},
{"data":{"values":[{}]},"mark":{"type":"text","text":"Clade 2","fontSize":17,"align":"right","baseline":"middle","color":"#f47f7f","dx":6},"encoding":{"x":{"datum":"N1194","bandPosition":1},"y":{"datum":100,"title":"%"}}}
]},
{"width":690,"height":85,
"encoding":{"x":{"field":"s","type":"nominal","title":null,"scale":{"domain":["N17","N20","N28","N30","N59","N61","N69","N74","N112","N122","N149","N162","N165","N176","N185","N234","N282","N307","N331","N343","N370","N554","N603","N616","N657","N677","N709","N717","N801","N1074","N1098","N1134","N1158","N1173","N1194"],"paddingInner":0.38,"paddingOuter":0.52,"align":0.35},"axis":{"labelAngle":-45}}},
"layer":[
{"data":{"name":"bars"},"transform":[{"filter":"datum.c=='2'"},{"fold":["Oligomannose","Hybrid","Complex","Unoccupied"],"as":["g","p"]},{"filter":"datum.p>0"},{"stack":"p","groupby":["s"],"as":["y0","y1"]}],"mark":{"type":"bar","stroke":"#4a4a4a","strokeWidth":0.9},"encoding":{"y":{"field":"y0","type":"quantitative","scale":{"domain":[0,100],"nice":false},"axis":{"values":[0,50,100],"title":"%","titleAngle":0,"titleX":-50,"titleY":41,"titleAlign":"left","titleBaseline":"middle","titleFontSize":15,"titleFontWeight":"normal"}},"y2":{"field":"y1"},"fill":{"field":"g","type":"nominal"}}},
{"data":{"name":"bars"},"transform":[{"filter":"datum.c=='2'"},{"fold":["Oligomannose","Hybrid","Complex","Unoccupied"],"as":["g","p"]},{"filter":"datum.p>0"},{"stack":"p","groupby":["s"],"as":["y0","y1"]},{"filter":"datum.g=='Hybrid'"}],"mark":{"type":"bar","stroke":"#4a4a4a","strokeWidth":0.9,"fill":{"gradient":"linear","x1":0,"y1":0,"x2":1,"y2":1,"stops":[{"offset":0,"color":"#ffffff"},{"offset":0.2,"color":"#ffffff"},{"offset":0.2,"color":"#f4a6e6"},{"offset":0.4,"color":"#f4a6e6"},{"offset":0.4,"color":"#ffffff"},{"offset":0.6,"color":"#ffffff"},{"offset":0.6,"color":"#f4a6e6"},{"offset":0.8,"color":"#f4a6e6"},{"offset":0.8,"color":"#ffffff"},{"offset":1,"color":"#ffffff"}]}},"encoding":{"y":{"field":"y0","type":"quantitative"},"y2":{"field":"y1"}}},
{"data":{"name":"notes"},"transform":[{"filter":"datum.c=='2' && datum.t=='*'"}],"mark":{"type":"text","fontSize":13,"baseline":"middle","color":"#111"},"encoding":{"text":{"field":"t"},"y":{"datum":12}}}
]},
{"width":690,"height":86,
"title":{"text":"D","dy":4},
"encoding":{"x":{"field":"s","type":"nominal","title":null,"scale":{"domain":["N17","N20","N28","N30","N59","N61","N69","N74","N112","N122","N149","N162","N165","N176","N185","N234","N282","N307","N331","N343","N370","N554","N603","N616","N657","N677","N709","N717","N801","N1074","N1098","N1134","N1158","N1173","N1194"],"paddingInner":0.38,"paddingOuter":0.52,"align":0.35},"axis":{"labels":false,"domainDash":[1.5,1.5],"domainColor":"#111","domainWidth":1.2,"tickColor":"#222","tickWidth":1.2,"tickSize":6}}},
"layer":[
{"data":{"name":"dots"},"transform":[{"filter":"datum.c=='3'"}],"mark":{"type":"point","filled":true,"size":18,"opacity":1,"color":"#f6b57c"},"encoding":{"y":{"field":"v","type":"quantitative","title":"%","scale":{"domain":[0,100],"nice":false},"axis":{"values":[0,50,100],"titleAngle":0,"titleX":-50,"titleY":35,"titleAlign":"left","titleBaseline":"middle","titleFontSize":15,"titleFontWeight":"bold"}},"xOffset":{"field":"r","type":"nominal","scale":{"domain":[1,2,3]}}}},
{"data":{"name":"dots"},"transform":[{"filter":"datum.c=='3'"},{"joinaggregate":[{"op":"count","as":"n"}],"groupby":["s"]},{"filter":"datum.n>1"}],"mark":{"type":"errorbar","extent":"stderr","color":"#222","thickness":1.2,"ticks":{"size":7,"thickness":1.2,"color":"#222"}},"encoding":{"y":{"field":"v","type":"quantitative","title":"%"}}},
{"data":{"name":"dots"},"transform":[{"filter":"datum.c=='3'"}],"mark":{"type":"tick","size":13,"thickness":1.3,"color":"#222"},"encoding":{"y":{"aggregate":"mean","field":"v","type":"quantitative","title":"%"}}},
{"data":{"name":"notes"},"transform":[{"filter":"datum.c=='3' && datum.p=='both' && datum.t=='*'"}],"mark":{"type":"text","fontSize":13,"baseline":"middle","color":"#111"},"encoding":{"text":{"field":"t"},"y":{"datum":8,"title":"%"}}},
{"data":{"name":"notes"},"transform":[{"filter":"datum.c=='3' && datum.t=='n.d.'"}],"mark":{"type":"text","fontSize":11,"baseline":"middle","color":"#111"},"encoding":{"text":{"field":"t"},"y":{"datum":11,"title":"%"}}},
{"data":{"values":[{}]},"mark":{"type":"text","text":"Clade 3","fontSize":17,"align":"right","baseline":"middle","color":"#f6b57c","dx":6},"encoding":{"x":{"datum":"N1194","bandPosition":1},"y":{"datum":88,"title":"%"}}}
]},
{"width":690,"height":85,
"encoding":{"x":{"field":"s","type":"nominal","title":null,"scale":{"domain":["N17","N20","N28","N30","N59","N61","N69","N74","N112","N122","N149","N162","N165","N176","N185","N234","N282","N307","N331","N343","N370","N554","N603","N616","N657","N677","N709","N717","N801","N1074","N1098","N1134","N1158","N1173","N1194"],"paddingInner":0.38,"paddingOuter":0.52,"align":0.35},"axis":{"labelAngle":-45}}},
"layer":[
{"data":{"name":"bars"},"transform":[{"filter":"datum.c=='3'"},{"fold":["Oligomannose","Hybrid","Complex","Unoccupied"],"as":["g","p"]},{"filter":"datum.p>0"},{"stack":"p","groupby":["s"],"as":["y0","y1"]}],"mark":{"type":"bar","stroke":"#4a4a4a","strokeWidth":0.9},"encoding":{"y":{"field":"y0","type":"quantitative","scale":{"domain":[0,100],"nice":false},"axis":{"values":[0,50,100],"title":"%","titleAngle":0,"titleX":-50,"titleY":41,"titleAlign":"left","titleBaseline":"middle","titleFontSize":15,"titleFontWeight":"normal"}},"y2":{"field":"y1"},"fill":{"field":"g","type":"nominal"}}},
{"data":{"name":"bars"},"transform":[{"filter":"datum.c=='3'"},{"fold":["Oligomannose","Hybrid","Complex","Unoccupied"],"as":["g","p"]},{"filter":"datum.p>0"},{"stack":"p","groupby":["s"],"as":["y0","y1"]},{"filter":"datum.g=='Hybrid'"}],"mark":{"type":"bar","stroke":"#4a4a4a","strokeWidth":0.9,"fill":{"gradient":"linear","x1":0,"y1":0,"x2":1,"y2":1,"stops":[{"offset":0,"color":"#ffffff"},{"offset":0.2,"color":"#ffffff"},{"offset":0.2,"color":"#f4a6e6"},{"offset":0.4,"color":"#f4a6e6"},{"offset":0.4,"color":"#ffffff"},{"offset":0.6,"color":"#ffffff"},{"offset":0.6,"color":"#f4a6e6"},{"offset":0.8,"color":"#f4a6e6"},{"offset":0.8,"color":"#ffffff"},{"offset":1,"color":"#ffffff"}]}},"encoding":{"y":{"field":"y0","type":"quantitative"},"y2":{"field":"y1"}}},
{"data":{"name":"notes"},"transform":[{"filter":"datum.c=='3' && datum.t=='*'"}],"mark":{"type":"text","fontSize":13,"baseline":"middle","color":"#111"},"encoding":{"text":{"field":"t"},"y":{"datum":12}}},
{"data":{"name":"notes"},"transform":[{"filter":"datum.c=='3' && datum.t=='n.d.'"}],"mark":{"type":"text","fontSize":11,"baseline":"middle","color":"#111"},"encoding":{"text":{"field":"t"},"y":{"datum":12}}}
]}
]
}
